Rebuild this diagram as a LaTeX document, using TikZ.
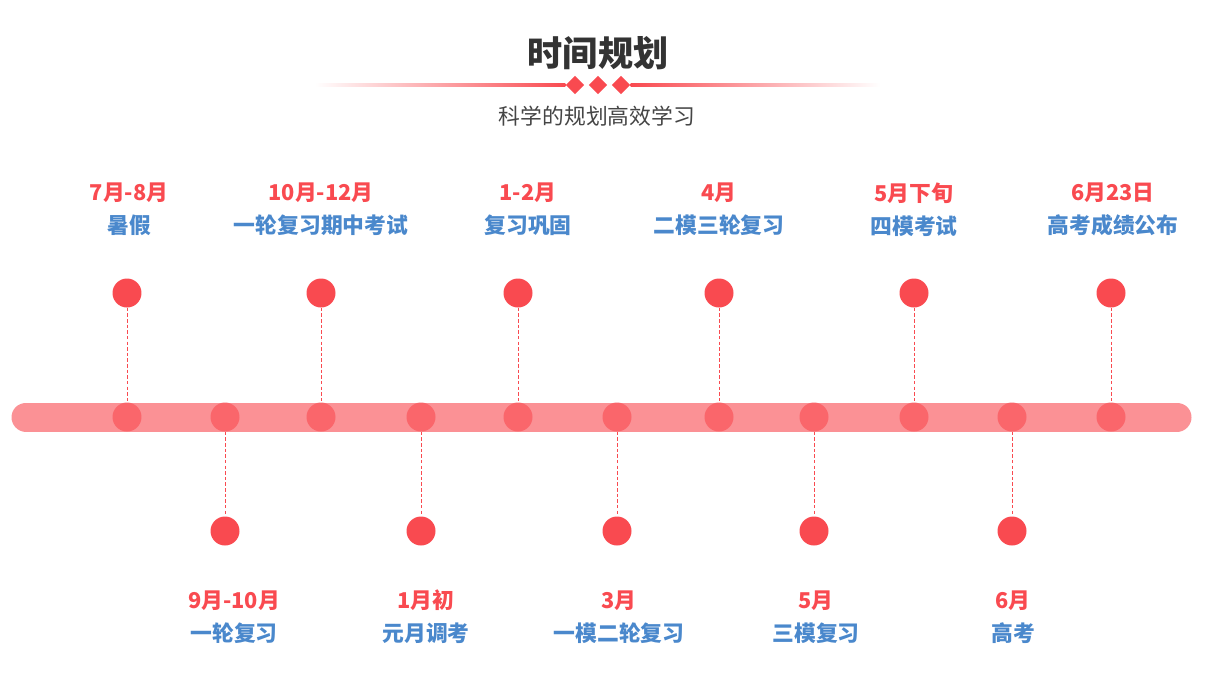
\documentclass[tikz,border=0pt]{standalone}
\usepackage{fontspec}
\setmainfont{Noto Sans CJK SC}
\usetikzlibrary{positioning,shapes.geometric}
\definecolor{pinred}{HTML}{F94A50}
\definecolor{hubred}{HTML}{FA666B}
\definecolor{barpink}{HTML}{FB9195}
\definecolor{whenred}{HTML}{F94A50}
\definecolor{whatblue}{HTML}{4A88CC}
\definecolor{headgray}{HTML}{333333}
\definecolor{subgray}{HTML}{454545}
\newcommand{\when}[1]{\textcolor{whenred}{#1}}
\newcommand{\what}[1]{\textcolor{whatblue}{#1}}

\begin{document}
\begin{tikzpicture}[x=0.02cm, y=-0.02cm,
  bar/.style={draw=barpink, line width=0.58cm, line cap=round},
  hub/.style={circle, fill=hubred, minimum size=0.58cm, inner sep=0pt},
  pin/.style={circle, fill=pinred, minimum size=0.58cm, inner sep=0pt},
  tick/.style={draw=pinred, line width=0.5pt, dash pattern=on 2pt off 1.2pt},
  gem/.style={diamond, fill=pinred, minimum size=0.37cm, inner sep=0pt},
  lab/.style={align=center, inner sep=0pt, font=\bfseries\fontsize{12.4}{18.8}\selectfont}
]
\useasboundingbox (0,0) rectangle (1213,681);

% heading
\node[font=\bfseries\fontsize{20}{24}\selectfont, text=headgray] (head) at (598,53) {时间规划};
\node[gem] (g1) at (575,85) {};
\node[gem] (g2) at (598,85) {};
\node[gem] (g3) at (621,85) {};
\shade[left color=white, right color=pinred] (315,83.6) rectangle (g1.west |- 0,86.4);
\shade[left color=pinred, right color=white] (g3.east |- 0,83.6) rectangle (880,86.4);
\node[font=\fontsize{12.4}{15}\selectfont, text=subgray] (sub) at (597,116) {科学的规划高效学习};

% time bar
\coordinate (bl) at (26,417);
\coordinate (br) at (1177,417);
\draw[bar] (bl) -- (br);

% above the bar
\node[hub] (h1) at (127,417) {};
\node[pin] (p1) at (127,293) {};
\draw[tick] (p1) -- (h1);
\node[lab] (t1) at (129,209.5) {\when{7月-8月}\\\what{暑假}};

\node[hub] (h3) at (321,417) {};
\node[pin] (p3) at (321,293) {};
\draw[tick] (p3) -- (h3);
\node[lab] (t3) at (321,209.5) {\when{10月-12月}\\\what{一轮复习期中考试}};

\node[hub] (h5) at (518,417) {};
\node[pin] (p5) at (518,293) {};
\draw[tick] (p5) -- (h5);
\node[lab] (t5) at (528,209.5) {\when{1-2月}\\\what{复习巩固}};

\node[hub] (h7) at (719,417) {};
\node[pin] (p7) at (719,293) {};
\draw[tick] (p7) -- (h7);
\node[lab] (t7) at (719,209.5) {\when{4月}\\\what{二模三轮复习}};

\node[hub] (h9) at (914,417) {};
\node[pin] (p9) at (914,293) {};
\draw[tick] (p9) -- (h9);
\node[lab] (t9) at (914,209.5) {\when{5月下旬}\\\what{四模考试}};

\node[hub] (h11) at (1111,417) {};
\node[pin] (p11) at (1111,293) {};
\draw[tick] (p11) -- (h11);
\node[lab] (t11) at (1113,209.5) {\when{6月23日}\\\what{高考成绩公布}};

% below the bar
\node[hub] (h2) at (225,417) {};
\node[pin] (p2) at (225,531) {};
\draw[tick] (h2) -- (p2);
\node[lab] (t2) at (234,617) {\when{9月-10月}\\\what{一轮复习}};

\node[hub] (h4) at (421,417) {};
\node[pin] (p4) at (421,531) {};
\draw[tick] (h4) -- (p4);
\node[lab] (t4) at (426,617) {\when{1月初}\\\what{元月调考}};

\node[hub] (h6) at (617,417) {};
\node[pin] (p6) at (617,531) {};
\draw[tick] (h6) -- (p6);
\node[lab] (t6) at (619,617) {\when{3月}\\\what{一模二轮复习}};

\node[hub] (h8) at (814,417) {};
\node[pin] (p8) at (814,531) {};
\draw[tick] (h8) -- (p8);
\node[lab] (t8) at (816,617) {\when{5月}\\\what{三模复习}};

\node[hub] (h10) at (1012,417) {};
\node[pin] (p10) at (1012,531) {};
\draw[tick] (h10) -- (p10);
\node[lab] (t10) at (1013,617) {\when{6月}\\\what{高考}};
\end{tikzpicture}
\end{document}
